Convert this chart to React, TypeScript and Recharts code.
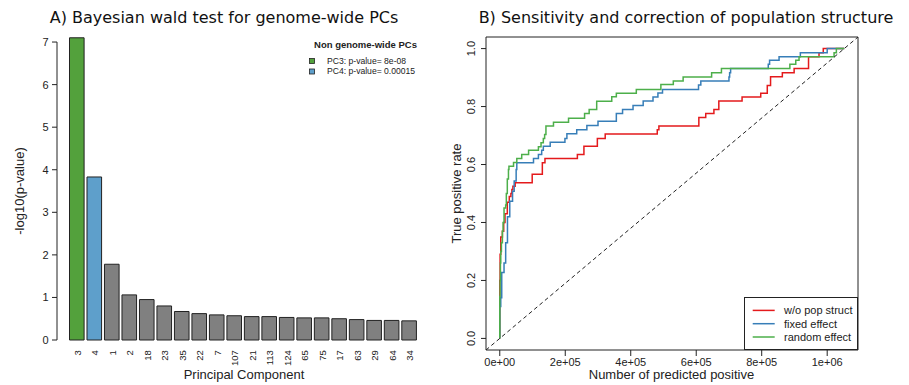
import React from 'react';
import { BarChart, Bar, Cell, XAxis, YAxis, LineChart, Line, ReferenceLine, ReferenceArea, Legend } from 'recharts';

const RFONT = "'Liberation Sans', Arial, Helvetica, sans-serif";
const TITLE_FONT = "'DejaVu Sans', Verdana, sans-serif";
const INK = '#222222';

// ---------- Panel A: Bayesian wald test ----------
const pcNames = ['3', '4', '1', '2', '18', '23', '35', '22', '7', '107', '21', '113', '124', '65', '75', '17', '63', '29', '64', '34'];
const pcScores = [7.1, 3.83, 1.78, 1.06, 0.95, 0.8, 0.67, 0.62, 0.59, 0.57, 0.55, 0.55, 0.53, 0.52, 0.52, 0.5, 0.48, 0.46, 0.46, 0.45];
const pcHighlight = [
  { pc: '3', label: 'PC3: p-value= 8e-08', color: '#53a13c' },
  { pc: '4', label: 'PC4: p-value= 0.00015', color: '#5e9fcb' },
];
const pcYTicks = [0, 1, 2, 3, 4, 5, 6, 7];
const pcLegendTitle = 'Non genome-wide PCs';

// ---------- Panel B: ROC-like curves ----------
// [number predicted positive, true positive rate], step after each point
const rocNoStruct: [number, number][] = [
  [0, 0], [0, 0.2], [1000, 0.29], [3000, 0.35], [8000, 0.37], [12000, 0.4], [16000, 0.43], [23000, 0.47],
  [29000, 0.49], [34000, 0.5], [37000, 0.514], [40000, 0.525], [47000, 0.537], [99000, 0.566], [130000, 0.606],
  [138000, 0.621], [237000, 0.635], [257000, 0.663], [298000, 0.69], [322000, 0.705], [481000, 0.72],
  [486000, 0.733], [608000, 0.762], [629000, 0.776], [654000, 0.79], [669000, 0.819], [740000, 0.833],
  [797000, 0.846], [817000, 0.873], [827000, 0.903], [863000, 0.917], [899000, 0.931], [943000, 0.972],
  [975000, 0.986], [988000, 1.0], [1052000, 1.0],
];
const rocFixed: [number, number][] = [
  [0, 0], [0, 0.11], [3000, 0.14], [6000, 0.227], [13000, 0.26], [18000, 0.33], [23500, 0.42], [30500, 0.473],
  [39000, 0.508], [44000, 0.543], [50000, 0.583], [52000, 0.606], [103000, 0.621], [118000, 0.635],
  [128000, 0.649], [133000, 0.663], [154000, 0.677], [199000, 0.69], [205000, 0.706], [235000, 0.72],
  [266000, 0.735], [300000, 0.749], [356000, 0.776], [375000, 0.79], [407000, 0.804], [438000, 0.819],
  [468000, 0.833], [483000, 0.847], [497000, 0.859], [607000, 0.874], [614000, 0.888], [700000, 0.902],
  [702000, 0.917], [705000, 0.931], [820000, 0.946], [824000, 0.96], [853000, 0.972], [918000, 0.986],
  [1000000, 1.0], [1052000, 1.0],
];
const rocRandom: [number, number][] = [
  [0, 0], [0, 0.145], [1000, 0.2], [2000, 0.26], [3000, 0.3], [5000, 0.33], [8000, 0.37], [10000, 0.4],
  [13000, 0.45], [18000, 0.46], [20000, 0.5], [23000, 0.55], [26500, 0.583], [28000, 0.594], [42000, 0.607],
  [52000, 0.621], [67000, 0.635], [88000, 0.649], [118000, 0.661], [126000, 0.675], [133000, 0.69],
  [137000, 0.704], [141000, 0.733], [164000, 0.746], [210000, 0.76], [259000, 0.776], [273000, 0.79],
  [296000, 0.818], [342000, 0.834], [356000, 0.846], [417000, 0.859], [492000, 0.876], [530000, 0.888],
  [560000, 0.902], [647000, 0.917], [677000, 0.931], [886000, 0.946], [904000, 0.96], [914000, 0.972],
  [1021000, 0.986], [1028000, 1.0], [1052000, 1.0],
];
const rocSeries = [
  { name: 'w/o pop struct', color: '#e41a1c', points: rocNoStruct },
  { name: 'fixed effect', color: '#377eb8', points: rocFixed },
  { name: 'random effect', color: '#4daf4a', points: rocRandom },
];
const totalPredicted = 1052000;
const rocXTicks = [0, 200000, 400000, 600000, 800000, 1000000];
const rocYTicks = [0, 0.2, 0.4, 0.6, 0.8, 1];

// ---------- layout ----------
const A_TOP = 25.7;
const A_XAXIS_H = 32.9;
const A_YDOMAIN: [number, number] = [-0.284, 7.384];
const A_UNIT = (385 - A_TOP - A_XAXIS_H) / (A_YDOMAIN[1] - A_YDOMAIN[0]);

const B_XDOMAIN: [number, number] = [-0.04 * totalPredicted, 1.04 * totalPredicted];
const B_YDOMAIN: [number, number] = [-0.04, 1.04];

function sci(v: number) {
  if (v === 0) return '0e+00';
  const [m, e] = v.toExponential().split('e');
  return `${m}e${e[0]}${e.slice(1).padStart(2, '0')}`;
}

function PcTick({ x, y, payload }: any) {
  return (
    <text x={x} y={y - 2} transform={`rotate(-90 ${x} ${y - 2})`} textAnchor="end" dominantBaseline="central"
      fontSize={9.5} fill={INK} fontFamily={RFONT}>
      {payload.value}
    </text>
  );
}

function ScoreTick({ x, y, payload }: any) {
  const axisX = x + 8.5;
  return (
    <g>
      <text x={x} y={y} dy={4} textAnchor="end" fontSize={11} fill={INK} fontFamily={RFONT}>{payload.value}</text>
      {payload.value < pcYTicks[pcYTicks.length - 1] && (
        <line x1={axisX} x2={axisX} y1={y} y2={y - A_UNIT} stroke={INK} strokeWidth={1} />
      )}
    </g>
  );
}

function TprTick({ x, y, payload }: any) {
  return (
    <text x={x} y={y} transform={`rotate(-90 ${x} ${y})`} textAnchor="middle" fontSize={11} fill={INK} fontFamily={RFONT}>
      {Number(payload.value).toFixed(1)}
    </text>
  );
}

function PcLegend() {
  return (
    <svg width={130} height={50} style={{ display: 'block' }}>
      <text x={65.5} y={18} textAnchor="middle" fontSize={9.5} fontWeight="bold" fill={INK} fontFamily={RFONT}>{pcLegendTitle}</text>
      {pcHighlight.map((h, i) => (
        <g key={h.pc}>
          <rect x={9.5} y={28.5 + i * 10.5} width={5} height={5} fill={h.color} stroke={INK} strokeWidth={0.8} />
          <text x={27} y={33.5 + i * 10.5} fontSize={8.6} fill={INK} fontFamily={RFONT}>{h.label}</text>
        </g>
      ))}
    </svg>
  );
}

function RocLegend() {
  return (
    <svg width={114} height={53} style={{ display: 'block' }}>
      <rect x={0.5} y={0.5} width={113} height={52} fill="#fff" stroke={INK} strokeWidth={1} />
      {rocSeries.map((s, i) => (
        <g key={s.name}>
          <line x1={8.7} x2={30.7} y1={13.4 + i * 13.3} y2={13.4 + i * 13.3} stroke={s.color} strokeWidth={1.5} />
          <text x={40} y={17.4 + i * 13.3} fontSize={11} fill={INK} fontFamily={RFONT}>{s.name}</text>
        </g>
      ))}
    </svg>
  );
}

function PanelA() {
  const data = pcNames.map((pc, i) => ({ pc, score: pcScores[i] }));
  return (
    <BarChart width={450} height={385} data={data} margin={{ top: A_TOP, right: 19.4, bottom: 0, left: 0 }}>
      <XAxis dataKey="pc" height={A_XAXIS_H} padding={{ left: 11.5, right: 12.3 }} axisLine={false} tickLine={false}
        tickSize={0} tickMargin={0} interval={0} tick={<PcTick />} />
      <YAxis type="number" domain={A_YDOMAIN} ticks={pcYTicks} width={57} axisLine={false} tickSize={5} tickMargin={3.5}
        tickLine={{ stroke: INK }} tick={<ScoreTick />} allowDataOverflow />
      <Legend layout="vertical" align="center" verticalAlign="middle" wrapperStyle={{ left: 300, top: 30, width: 130, height: 50 }}
        content={<PcLegend />} />
      <Bar dataKey="score" barSize={14.6} stroke={INK} strokeWidth={1} isAnimationActive={false}>
        {data.map((d) => {
          const h = pcHighlight.find((p) => p.pc === d.pc);
          return <Cell key={d.pc} fill={h ? h.color : '#808080'} />;
        })}
      </Bar>
    </BarChart>
  );
}

function PanelB() {
  return (
    <LineChart width={459} height={385} margin={{ top: 37, right: 51, bottom: 0, left: 0 }}>
      <XAxis type="number" dataKey="x" domain={B_XDOMAIN} ticks={rocXTicks} allowDataOverflow height={35}
        axisLine={false} tickSize={6} tickMargin={2} tickLine={{ stroke: INK }} tickFormatter={sci}
        tick={{ fill: INK, fontSize: 11, fontFamily: RFONT }} />
      <YAxis type="number" domain={B_YDOMAIN} ticks={rocYTicks} allowDataOverflow width={36}
        axisLine={false} tickSize={5} tickMargin={6} tickLine={{ stroke: INK }} tick={<TprTick />} />
      <ReferenceArea x1={B_XDOMAIN[0]} x2={B_XDOMAIN[1]} y1={B_YDOMAIN[0]} y2={B_YDOMAIN[1]} fill="none"
        stroke={INK} strokeWidth={1} ifOverflow="visible" />
      {rocSeries.map((s) => (
        <Line key={s.name} name={s.name} data={s.points.map(([x, y]) => ({ x, y }))} dataKey="y" type="stepAfter"
          stroke={s.color} strokeWidth={1.5} dot={false} activeDot={false} isAnimationActive={false} />
      ))}
      <ReferenceLine
        segment={[{ x: B_XDOMAIN[0], y: B_XDOMAIN[0] / totalPredicted }, { x: B_XDOMAIN[1], y: B_XDOMAIN[1] / totalPredicted }]}
        stroke={INK} strokeDasharray="4 3" strokeWidth={1} ifOverflow="hidden" />
      <Legend layout="vertical" align="center" verticalAlign="middle"
        wrapperStyle={{ left: 294.3, top: 297.3, width: 114, height: 53 }} content={<RocLegend />} />
    </LineChart>
  );
}

export default function App() {
  return (
    <div style={{ position: 'absolute', left: 0, top: 0, width: 909, height: 385, background: '#fff' }}>
      <div style={{ position: 'absolute', left: 0, top: 0 }}><PanelA /></div>
      <div style={{ position: 'absolute', left: 450, top: 0 }}><PanelB /></div>
      <svg width={909} height={385} style={{ position: 'absolute', left: 0, top: 0, pointerEvents: 'none' }}>
        <g fill="#111" fontFamily={TITLE_FONT} fontSize={16} textAnchor="middle">
          <text x={224} y={22.5}>A) Bayesian wald test for genome-wide PCs</text>
          <text x={686} y={22.5}>B) Sensitivity and correction of population structure</text>
        </g>
        <g fill={INK} fontFamily={RFONT} fontSize={13} textAnchor="middle">
          <text x={244} y={379}>Principal Component</text>
          <text x={24} y={191} transform="rotate(-90 24 191)">-log10(p-value)</text>
          <text x={671.5} y={379}>Number of predicted positive</text>
          <text x={461} y={193.5} transform="rotate(-90 461 193.5)">True positive rate</text>
        </g>
      </svg>
    </div>
  );
}
